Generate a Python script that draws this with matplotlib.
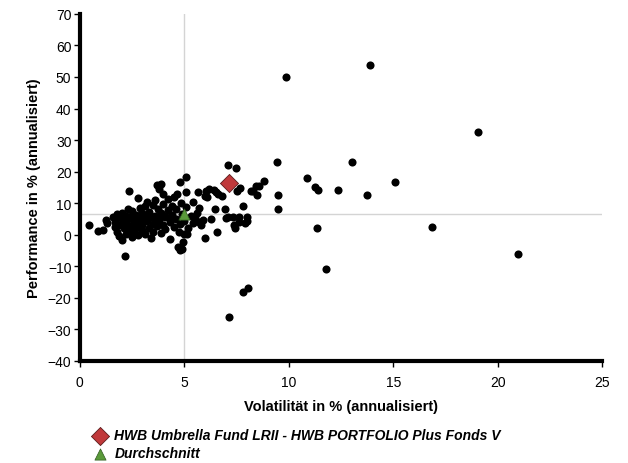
import matplotlib
matplotlib.use("Agg")
import matplotlib.pyplot as plt

plt.rcParams['font.family'] = ['Liberation Sans', 'DejaVu Sans']

# peer funds: volatility (%) and performance (%)
vol = [0.45, 0.85, 1.1, 1.25, 1.3,
       1.6, 1.7, 1.7, 1.8, 1.8, 1.9, 1.9, 2.0, 2.0, 2.0, 2.1, 2.1, 2.15, 2.2, 2.2,
       2.3, 2.3, 2.35, 2.4, 2.4, 2.5, 2.5, 2.5, 2.6, 2.6, 2.7, 2.7, 2.8, 2.8, 2.8,
       2.9, 2.9, 3.0, 3.0, 3.0, 3.1, 3.1, 3.2, 3.2, 3.3, 3.3, 3.4, 3.4, 3.5, 3.5,
       3.5, 3.6, 3.6, 3.7, 3.7, 3.75, 3.8, 3.8, 3.9, 3.9, 3.9, 4.0, 4.0, 4.0, 4.1,
       4.1, 4.2, 4.2, 4.3, 4.3, 4.4, 4.4, 4.5, 4.5, 4.6, 4.6, 4.65, 4.7, 4.75, 4.8,
       4.8, 4.8, 4.85, 4.9, 4.95, 5.0, 5.0, 5.1, 5.1, 5.1, 5.2, 5.3, 5.4, 5.4, 5.5,
       5.6, 5.65, 5.7, 5.7, 5.8, 5.9, 6.0, 6.0, 6.05, 6.1, 6.2, 6.3, 6.4, 6.45, 6.5,
       6.55, 6.6, 6.8, 6.95, 7.0, 7.07, 7.1, 7.35, 7.4, 7.42, 7.46, 7.5, 7.6, 7.6,
       7.65, 7.8, 7.9, 8.0, 8.0, 8.2, 8.3, 8.45, 8.5, 8.6, 8.8,
       1.8, 2.1, 2.4, 2.6, 2.9, 3.2, 3.5, 3.8, 4.1, 4.4, 2.2, 3.0, 3.6, 4.3,
       9.87, 13.9, 19.06, 9.42, 13.03, 10.89, 11.25, 11.4, 12.37, 13.76, 15.09,
       9.48, 9.48, 11.33, 16.86, 20.96, 11.77, 7.82, 8.06, 7.15, 4.87, 5.14]
perf = [3.1, 1.3, 1.6, 4.6, 3.8,
        5.5, 4.0, 2.5, 6.5, 1.0, 3.2, -0.5, -1.8, 5.0, 7.0, 2.0, 4.2, -6.9, 0.3, 6.0,
        3.0, 8.0, 13.8, 1.2, 5.2, -0.8, 2.5, 7.5, 4.0, 0.5, 6.3, 2.0, 11.6, 3.5, -0.2,
        8.5, 5.0, 1.5, 6.8, 3.0, 9.0, 0.2, 4.5, 10.5, 2.2, 7.2, 5.5, -1.0, 9.3, 3.5,
        1.0, 6.0, 11.0, 15.7, 2.8, 8.0, 14.4, 4.8, 16.1, 0.5, 6.9, 13.0, 9.8, 3.2, 5.8,
        1.8, 7.8, 11.2, 4.0, -1.5, 6.2, 9.0, 2.5, 12.0, 5.0, 8.2, 12.9, -4.0, 0.8, 16.6,
        -5.0, 3.5, 10.0, 6.5, -2.4, 0.3, 4.5, 18.4, 13.4, 8.8, 2.0, 6.0, 10.3, 3.8, 5.2,
        7.0, 13.6, 8.4, 4.0, 3.0, 4.8, -1.2, 12.4, 14.0, 11.9, 14.5, 5.0, 14.3, 8.1, 13.5,
        0.8, 12.9, 12.2, 8.0, 5.3, 22.1, 5.6, 5.6, 3.0, 2.0, 21.3, 14.0, 5.5, 4.0,
        14.7, 9.2, 3.8, 5.6, 4.5, 14.0, 14.0, 15.5, 12.7, 15.5, 17.0,
        5.6, 5.8, 5.5, 5.7, 5.6, 5.8, 5.5, 5.6, 5.7, 5.5, 5.0, 5.1, 5.2, 5.0,
        49.9, 53.8, 32.7, 23.2, 23.0, 17.9, 15.1, 14.1, 14.1, 12.6, 16.8,
        12.6, 8.3, 2.0, 2.6, -6.1, -10.8, -18.0, -17.0, -26.2, -4.5, 0.3]

fund_name = "HWB Umbrella Fund LRII - HWB PORTFOLIO Plus Fonds V"
fund_vol = [7.14]
fund_perf = [16.4]
avg_vol = [5.0]
avg_perf = [6.5]

fig = plt.figure(figsize=(6.28, 4.64), dpi=100)
ax = fig.add_axes([0.127, 0.22, 0.832, 0.748])

ax.axvline(avg_vol[0], color='#d4d4d4', lw=1, zorder=1)
ax.axhline(avg_perf[0], color='#d4d4d4', lw=1, zorder=1)

ax.scatter(vol, perf, s=34, color='black', linewidths=0, zorder=2)
d = ax.scatter(fund_vol, fund_perf, s=85, marker='D', color='#c0393b',
               edgecolors='#5a1a1a', linewidths=0.6, zorder=4, label=fund_name)
t = ax.scatter(avg_vol, avg_perf, s=65, marker='^', color='#5a9a3a',
               edgecolors='#2f5a1f', linewidths=0.5, zorder=3, label='Durchschnitt')

ax.set_xlim(0, 25)
ax.set_ylim(-40, 70)
ax.set_xticks(range(0, 26, 5))
ax.set_yticks(range(-40, 71, 10))
ax.set_yticklabels([str(v).replace('-', '\u2212') for v in range(-40, 71, 10)])

for side in ['top', 'right']:
    ax.spines[side].set_visible(False)
for side in ['left', 'bottom']:
    ax.spines[side].set_linewidth(3)
ax.tick_params(direction='out', length=4, width=1, labelsize=10, pad=2)
ax.tick_params(axis='x', pad=6)

ax.set_xlabel('Volatilität in % (annualisiert)', fontsize=10.5, fontweight='bold', labelpad=7)
ax.set_ylabel('Performance in % (annualisiert)', fontsize=10.5, fontweight='bold', labelpad=5)

leg = fig.legend(handles=[d, t], loc='upper left', bbox_to_anchor=(0.14, 0.087),
                 frameon=False, handletextpad=0.5, labelspacing=0.3,
                 borderaxespad=0, handlelength=1.0,
                 prop={'style': 'italic', 'weight': 'bold', 'size': 10})

fig.savefig('out.png', dpi=100)
